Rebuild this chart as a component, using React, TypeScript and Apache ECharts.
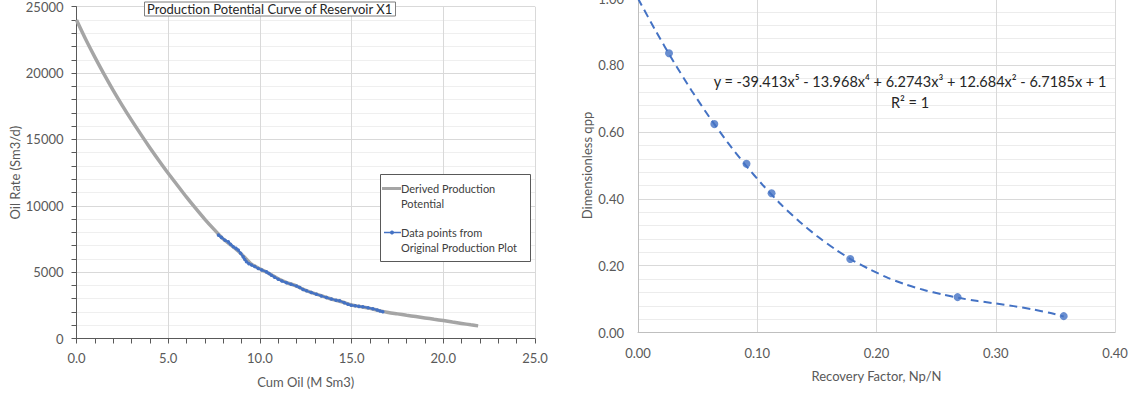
import React, { useEffect, useRef } from "react";
import * as echarts from "echarts";

// ---- Left chart: Production Potential Curve of Reservoir X1 ----
const derivedCum = [0, 0.5, 1, 1.5, 2, 2.5, 3, 3.5, 4, 4.5, 5, 5.5, 6, 6.5, 7, 7.5, 8, 8.5, 9, 9.5, 10, 10.5, 11, 11.5, 12, 12.5, 13, 13.5, 14, 14.5, 15, 15.5, 16, 16.5, 17, 17.5, 18, 18.5, 19, 19.5, 20, 20.5, 21, 21.5, 21.9];
const derivedRate = [24000, 22550, 21200, 19920, 18700, 17550, 16450, 15400, 14380, 13400, 12450, 11550, 10650, 9800, 8980, 8220, 7500, 6950, 6350, 5650, 5250, 4900, 4500, 4200, 3950, 3620, 3380, 3150, 2930, 2750, 2520, 2400, 2270, 2100, 1960, 1855, 1750, 1650, 1550, 1450, 1350, 1240, 1135, 1030, 950];

const origCum = [7.74, 7.9, 8.1, 8.28, 8.4, 8.55, 8.7, 8.82, 8.95, 9.09, 9.18, 9.27, 9.4, 9.55, 9.72, 9.91, 10.1, 10.36, 10.5, 10.63, 10.8, 11.0, 11.2, 11.45, 11.7, 12.0, 12.17, 12.35, 12.54, 12.8, 13.08, 13.35, 13.63, 13.9, 14.15, 14.35, 14.6, 14.8, 14.98, 15.2, 15.4, 15.61, 15.9, 16.16, 16.4, 16.55, 16.7];
const origRate = [7790, 7620, 7410, 7280, 7100, 6910, 6790, 6660, 6420, 6150, 5950, 5780, 5640, 5530, 5420, 5280, 5160, 5020, 4900, 4770, 4620, 4470, 4330, 4200, 4090, 3950, 3850, 3700, 3590, 3460, 3340, 3210, 3090, 2970, 2890, 2840, 2700, 2580, 2510, 2460, 2420, 2390, 2310, 2240, 2150, 2080, 2010];

// ---- Right chart: Dimensionless qpp vs Recovery Factor ----
const recoveryFactor = [0.026, 0.064, 0.091, 0.112, 0.178, 0.268, 0.357];
const qpp = [0.836, 0.624, 0.505, 0.417, 0.22, 0.106, 0.049];
// dashed polynomial trendline
const trendRF = [0, 0.015, 0.03, 0.045, 0.06, 0.075, 0.09, 0.105, 0.12, 0.135, 0.15, 0.165, 0.18, 0.195, 0.21, 0.225, 0.24, 0.255, 0.27, 0.285, 0.3, 0.315, 0.33, 0.345, 0.357];
const trendQpp = [1.0, 0.902, 0.81, 0.724, 0.644, 0.57, 0.502, 0.44, 0.383, 0.333, 0.289, 0.25, 0.216, 0.188, 0.163, 0.143, 0.127, 0.114, 0.103, 0.094, 0.087, 0.079, 0.07, 0.059, 0.048];

const equationText = "y = -39.413x⁵ - 13.968x⁴ + 6.2743x³ + 12.684x² - 6.7185x + 1";
const r2Text = "R² = 1";
const titleText = "Production Potential Curve of Reservoir X1";
const legendNames = ["Derived Production\nPotential", "Data points from\nOriginal Production Plot"];

const FONT = "Lato, 'Noto Sans', sans-serif";
const LABEL = "#595959";
const BLUE = "#4472C4";
const GRAY = "#A5A5A5";

function zip(a: number[], b: number[]) {
  return a.map((v, i) => [v, b[i]]);
}

export default function App() {
  const ref = useRef<HTMLDivElement>(null);
  useEffect(() => {
    if (!ref.current) return;
    const chart = echarts.init(ref.current, null, { renderer: "svg" });
    const option: any = {
      animation: false,
      backgroundColor: "#fff",
      textStyle: { fontFamily: FONT },
      title: {
        text: titleText,
        left: 144,
        top: 1.5,
        padding: [1, 3, 1, 3],
        borderWidth: 1,
        borderColor: "#7f7f7f",
        backgroundColor: "#fff",
        textStyle: { fontFamily: FONT, fontSize: 13, fontWeight: "normal", color: "#262626" },
      },
      grid: [
        { left: 76.5, top: 6.7, width: 458.5, height: 331.8, outerBoundsMode: "none", containLabel: false },
        { left: 638, top: -1.5, width: 477, height: 334, outerBoundsMode: "none", containLabel: false },
      ],
      xAxis: [
        {
          gridIndex: 0,
          type: "value",
          min: 0,
          max: 25,
          interval: 5,
          name: "Cum Oil (M Sm3)",
          nameLocation: "middle",
          nameGap: 37,
          nameTextStyle: { color: LABEL, fontSize: 13, fontFamily: FONT },
          axisLine: { show: true, lineStyle: { color: "#595959", width: 1 } },
          axisTick: { show: true, length: 5, lineStyle: { color: "#595959" } },
          minorTick: { show: true, splitNumber: 5, length: 5, lineStyle: { color: "#595959" } },
          axisLabel: { color: LABEL, fontSize: 13, margin: 13, formatter: (v: number) => v.toFixed(1) },
          splitLine: { show: true, lineStyle: { color: "#d9d9d9" } },
        },
        {
          gridIndex: 1,
          type: "value",
          min: 0,
          max: 0.4,
          interval: 0.1,
          name: "Recovery Factor, Np/N",
          nameLocation: "middle",
          nameGap: 37,
          nameTextStyle: { color: LABEL, fontSize: 13, fontFamily: FONT },
          axisLine: { show: true, onZero: false, lineStyle: { color: "#bfbfbf", width: 1 } },
          axisTick: { show: false },
          axisLabel: { color: LABEL, fontSize: 13, margin: 14, formatter: (v: number) => v.toFixed(2) },
          splitLine: { show: true, lineStyle: { color: "#d9d9d9" } },
        },
      ],
      yAxis: [
        {
          gridIndex: 0,
          type: "value",
          min: 0,
          max: 25000,
          interval: 5000,
          name: "Oil Rate (Sm3/d)",
          nameLocation: "middle",
          nameGap: 44,
          nameTextStyle: { color: LABEL, fontSize: 13, fontFamily: FONT },
          axisLine: { show: true, lineStyle: { color: "#595959", width: 1 } },
          axisTick: { show: true, length: 5, lineStyle: { color: "#595959" } },
          minorTick: { show: true, splitNumber: 5, length: 5, lineStyle: { color: "#595959" } },
          axisLabel: { color: LABEL, fontSize: 13, margin: 13, formatter: (v: number) => String(v) },
          splitLine: { show: true, lineStyle: { color: "#d9d9d9" } },
          minorSplitLine: { show: true, lineStyle: { color: "#efefef" } },
        },
        {
          gridIndex: 1,
          type: "value",
          min: 0,
          max: 1,
          interval: 0.2,
          name: "Dimensionless qpp",
          nameLocation: "middle",
          nameGap: 45,
          nameTextStyle: { color: LABEL, fontSize: 13, fontFamily: FONT },
          axisLine: { show: true, onZero: false, lineStyle: { color: "#bfbfbf", width: 1 } },
          axisTick: { show: false },
          minorTick: { show: false, splitNumber: 5 },
          axisLabel: { color: LABEL, fontSize: 13, margin: 14, formatter: (v: number) => v.toFixed(2) },
          splitLine: { show: true, lineStyle: { color: "#d9d9d9" } },
          minorSplitLine: { show: true, lineStyle: { color: "#ececec" } },
        },
      ],
      series: [
        {
          name: legendNames[0],
          type: "line",
          xAxisIndex: 0,
          yAxisIndex: 0,
          data: zip(derivedCum, derivedRate),
          smooth: 0.3,
          showSymbol: false,
          symbol: "none",
          lineStyle: { color: GRAY, width: 3.5 },
          z: 2,
        },
        {
          name: legendNames[1],
          type: "line",
          xAxisIndex: 0,
          yAxisIndex: 0,
          data: zip(origCum, origRate),
          symbol: "circle",
          symbolSize: 3.5,
          showSymbol: true,
          itemStyle: { color: BLUE },
          lineStyle: { color: BLUE, width: 2 },
          z: 3,
        },
        {
          name: "Trendline",
          type: "line",
          xAxisIndex: 1,
          yAxisIndex: 1,
          data: zip(trendRF, trendQpp),
          smooth: 0.2,
          showSymbol: false,
          symbol: "none",
          lineStyle: { color: BLUE, width: 2, type: [8, 5] },
          z: 2,
        },
        {
          name: "qpp",
          type: "scatter",
          xAxisIndex: 1,
          yAxisIndex: 1,
          data: zip(recoveryFactor, qpp),
          symbol: "circle",
          symbolSize: 8,
          itemStyle: { color: BLUE },
          z: 3,
        },
      ],
      graphic: [
        {
          type: "rect",
          z: 100,
          shape: { x: 380.5, y: 174.5, width: 150, height: 87 },
          style: { fill: "#fff", stroke: "#595959", lineWidth: 1 },
        },
        {
          type: "line",
          z: 101,
          shape: { x1: 382, y1: 188.5, x2: 401, y2: 188.5 },
          style: { stroke: GRAY, lineWidth: 3 },
        },
        {
          type: "line",
          z: 101,
          shape: { x1: 384, y1: 232.5, x2: 401, y2: 232.5 },
          style: { stroke: BLUE, lineWidth: 1.5 },
        },
        {
          type: "circle",
          z: 102,
          shape: { cx: 392, cy: 232.5, r: 2 },
          style: { fill: BLUE },
        },
        {
          type: "text",
          z: 101,
          x: 401,
          y: 188.5,
          style: { text: "Derived Production", fontFamily: FONT, fontSize: 11, fill: "#404040", verticalAlign: "middle" },
        },
        {
          type: "text",
          z: 101,
          x: 401,
          y: 203.5,
          style: { text: "Potential", fontFamily: FONT, fontSize: 11, fill: "#404040", verticalAlign: "middle" },
        },
        {
          type: "text",
          z: 101,
          x: 401,
          y: 232.5,
          style: { text: "Data points from", fontFamily: FONT, fontSize: 11, fill: "#404040", verticalAlign: "middle" },
        },
        {
          type: "text",
          z: 101,
          x: 401,
          y: 247.5,
          style: { text: "Original Production Plot", fontFamily: FONT, fontSize: 11, fill: "#404040", verticalAlign: "middle" },
        },
        {
          type: "text",
          z: 101,
          x: 910,
          y: 81,
          style: { text: equationText, fontFamily: FONT, fontSize: 14.5, fill: "#262626", align: "center", verticalAlign: "middle" },
        },
        {
          type: "text",
          z: 101,
          x: 910,
          y: 102,
          style: { text: r2Text, fontFamily: FONT, fontSize: 14.5, fill: "#262626", align: "center", verticalAlign: "middle" },
        },
      ],
    };
    chart.setOption(option);
    return () => chart.dispose();
  }, []);
  return (
    <div
      ref={ref}
      style={{ position: "fixed", left: 0, top: 0, width: 1139, height: 396, background: "#fff" }}
    />
  );
}
